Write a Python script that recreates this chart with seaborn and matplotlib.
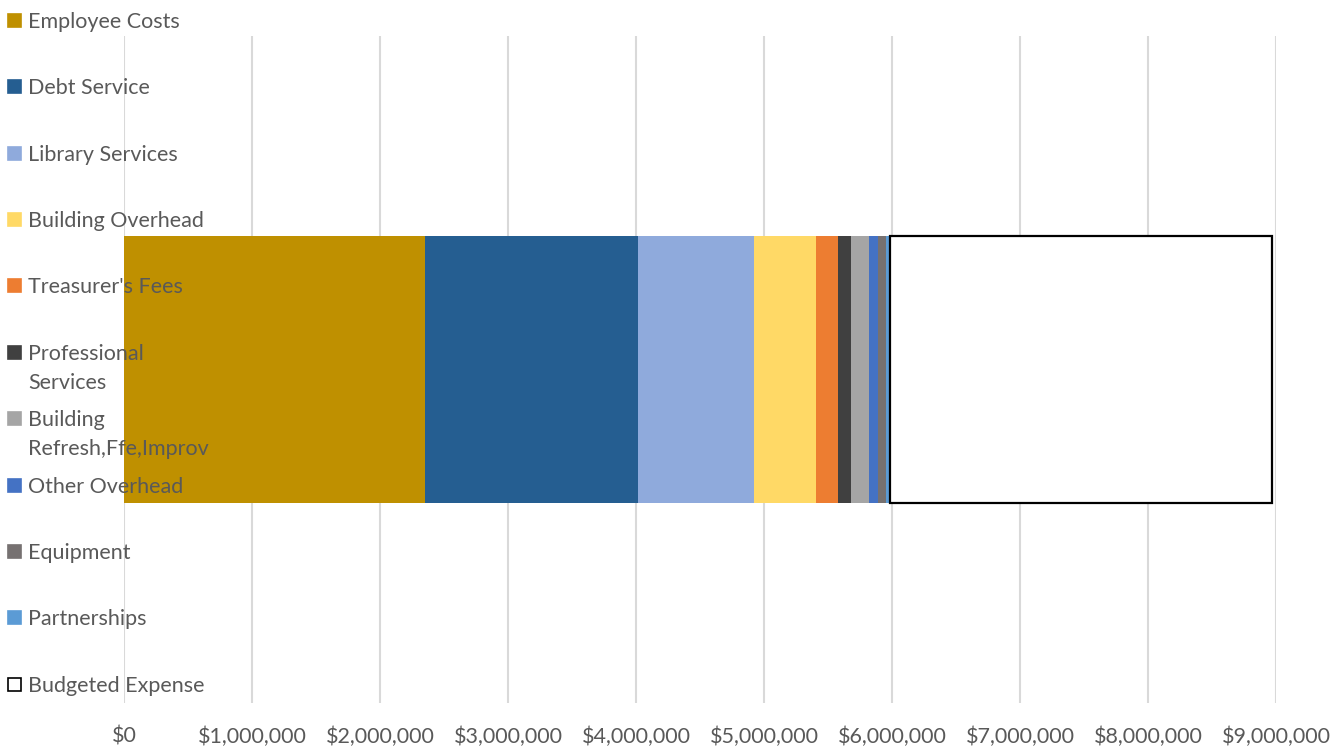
import numpy as np
import seaborn as sns
import matplotlib.pyplot as plt
from matplotlib.patches import Rectangle

# budget components (dollars)
categories = ['Employee Costs', 'Debt Service', 'Library Services', 'Building Overhead',
              "Treasurer's Fees", 'Professional Services', 'Building Refresh,Ffe,Improv',
              'Other Overhead', 'Equipment', 'Partnerships', 'Budgeted Expense']
legend_labels = ['Employee Costs', 'Debt Service', 'Library Services', 'Building Overhead',
                 "Treasurer's Fees", 'Professional\nServices', 'Building\nRefresh,Ffe,Improv',
                 'Other Overhead', 'Equipment', 'Partnerships', 'Budgeted Expense']
values = [2352000, 1664000, 906000, 484000, 172000, 102000, 141000,
          70000, 62000, 30000, 2985000]
colors = ['#BF9000', '#255E91', '#8FAADC', '#FFD966', '#ED7D31', '#404040',
          '#A5A5A5', '#4472C4', '#767171', '#5B9BD5', 'white']
xticks = np.arange(0, 9000001, 1000000)

sns.set_style('white')
plt.rcParams['font.family'] = ['Lato', 'DejaVu Sans']

W, H = 1338, 747
fig = plt.figure(figsize=(W / 100, H / 100), dpi=100)
ax = fig.add_axes([124 / W, 1 - 703 / H, (1276 - 124) / W, (703 - 36) / H])

left = 0
for cat, v, c in zip(categories, values, colors):
    if cat == 'Budgeted Expense':
        sns.barplot(x=[v], y=['total'], orient='h', width=0.4, left=left,
                    color=c, edgecolor='black', linewidth=1.6, saturation=1, ax=ax)
    else:
        sns.barplot(x=[v], y=['total'], orient='h', width=0.4, left=left,
                    color=c, linewidth=0, saturation=1, ax=ax)
    left += v

ax.set_xlim(0, 9000000)
ax.set_ylim(0.5, -0.5)
ax.set_xticks(xticks)
ax.set_xticklabels(['${:,.0f}'.format(t) for t in xticks])
ax.set_yticks([])
ax.set_xlabel('')
ax.set_ylabel('')
ax.tick_params(axis='x', length=0, pad=17, labelsize=15.5, labelcolor='#595959')
ax.grid(axis='x', color='#d9d9d9', linewidth=1.5)
ax.set_axisbelow(True)
for s in ax.spines.values():
    s.set_visible(False)

# legend drawn down the left edge, fixed slot spacing
slot_y = [20, 86, 153, 219, 285, 352, 418, 485, 551, 617, 684]
for lab, c, py in zip(legend_labels, colors, slot_y):
    fig.patches.append(Rectangle((8 / W, 1 - (py + 7) / H), 13 / W, 13 / H,
                                 transform=fig.transFigure, facecolor=c,
                                 edgecolor='black' if c == 'white' else c,
                                 linewidth=1.2))
    for i, line in enumerate(lab.split('\n')):
        fig.text(28 / W, 1 - (py + 2 + 29 * i) / H, line, va='center', ha='left',
                 fontsize=15.5, color='#595959')

fig.savefig('out.png', dpi=100)
